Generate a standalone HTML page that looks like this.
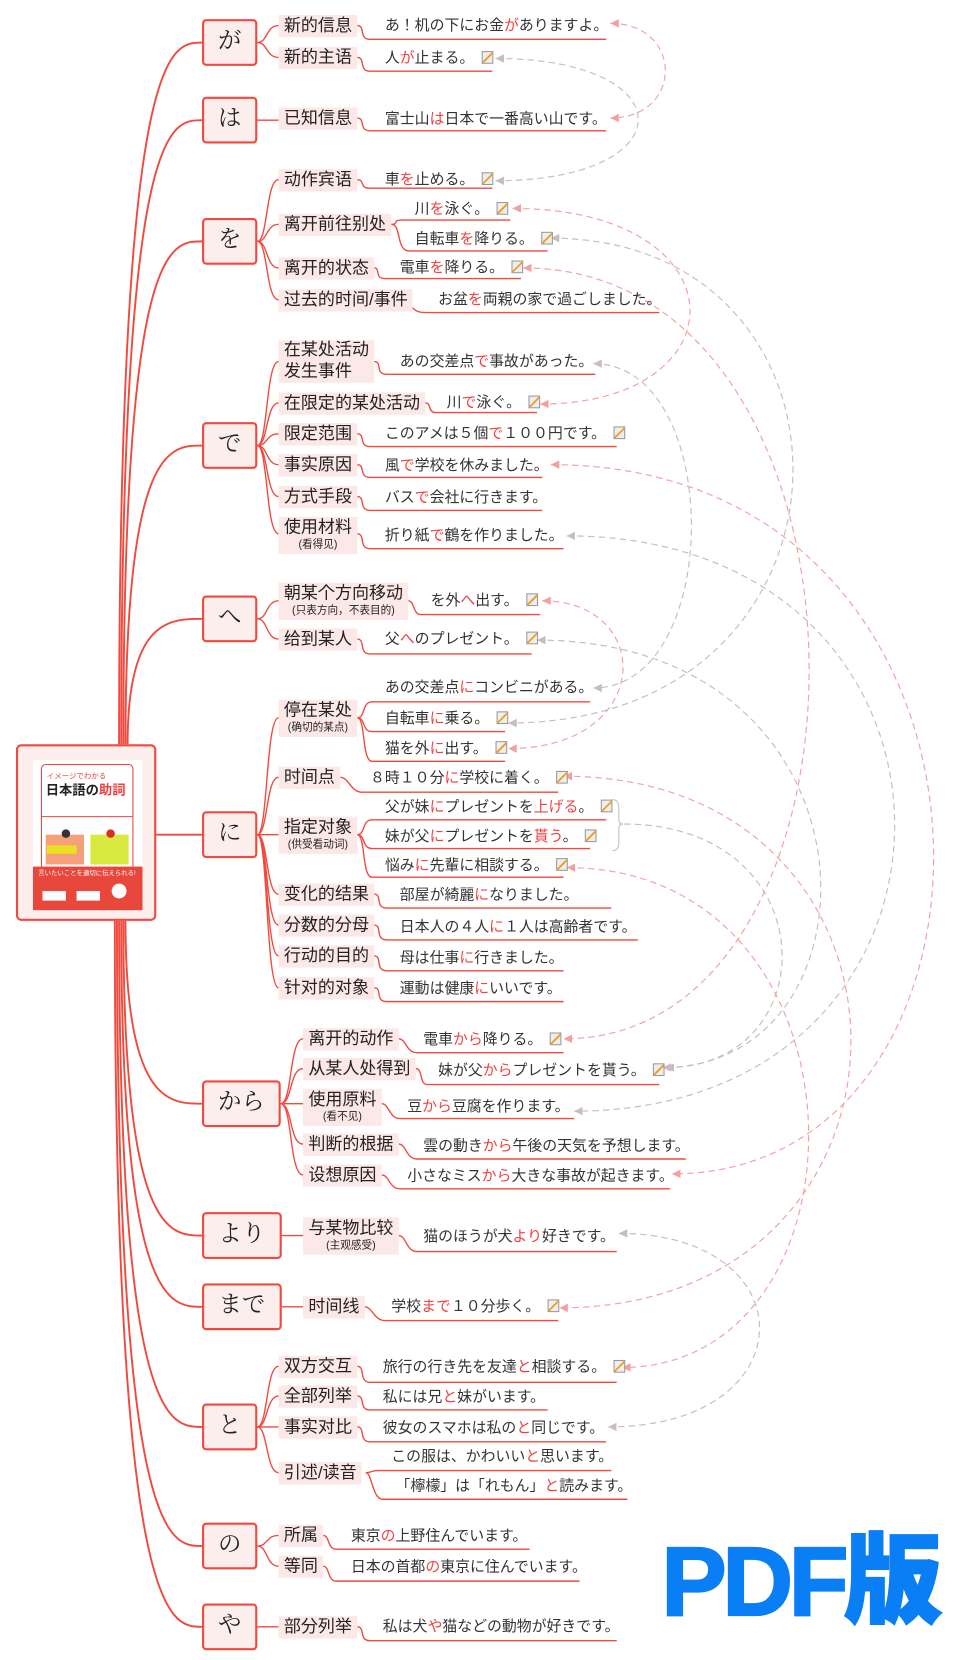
<!DOCTYPE html>
<html><head><meta charset="utf-8">
<style>
html,body{margin:0;padding:0;background:#fff;}
body{width:957px;height:1659px;overflow:hidden;position:relative;}
#w{position:absolute;left:0;top:0;width:900px;height:1561px;transform:scale(1.0633);transform-origin:0 0;font-family:"Liberation Sans","Noto Sans CJK JP",sans-serif;color:#333;}
.k{position:absolute;width:48px;height:40px;border:2px solid #f04a3e;border-radius:4px;background:#fdeeee;font-size:22px;line-height:36px;text-align:center;font-family:"Liberation Serif","Noto Serif CJK SC",serif;color:#222;box-sizing:content-box;}
.l{position:absolute;background:#fde8e8;font-size:16px;line-height:21px;padding:0 5px;white-space:nowrap;color:#222;}
.l small{display:block;font-size:10px;line-height:12px;text-align:center;padding-bottom:2px;}
.s{position:absolute;font-size:14px;line-height:18px;white-space:nowrap;color:#333;font-family:"Liberation Sans","Noto Sans CJK JP",sans-serif;}
.r{color:#f04040;}
.n{display:inline-block;width:9px;height:10px;border:1px solid #999;background:linear-gradient(135deg,#eee 45%,#f0a020 46%,#f0a020 58%,#eee 59%);margin-left:7px;vertical-align:-1px;}
svg{position:absolute;left:0;top:0;}
</style></head><body><div id="w">
<svg width="900" height="1561" viewBox="0 0 900 1561">
<defs>
<marker id="ap" markerWidth="8" markerHeight="8" refX="8" refY="4" orient="auto-start-reverse" markerUnits="userSpaceOnUse"><path d="M0,0 L8,4 L0,8 Z" fill="#f4a0a0"/></marker>
<marker id="ag" markerWidth="8" markerHeight="8" refX="8" refY="4" orient="auto-start-reverse" markerUnits="userSpaceOnUse"><path d="M0,0 L8,4 L0,8 Z" fill="#c9bcbc"/></marker>
</defs>
<g fill="none" stroke="#f04a3e" stroke-width="1.8">
<path d="M112 700 C112 40,160 40,190 40"/>
<path d="M114 700 C114 113,160 113,190 113"/>
<path d="M116 700 C116 227,160 227,190 227"/>
<path d="M118 700 C118 419,160 419,190 419"/>
<path d="M120 700 C120 582,160 582,190 582"/>
<path d="M147 785 H190"/>
<path d="M118 866 C118 1038,160 1038,190 1038"/>
<path d="M116 866 C116 1162,160 1162,190 1162"/>
<path d="M114 866 C114 1229,160 1229,190 1229"/>
<path d="M112 866 C112 1342,160 1342,190 1342"/>
<path d="M110 866 C110 1454,160 1454,190 1454"/>
<path d="M108 866 C108 1530,160 1530,190 1530"/>
</g>
<g fill="none" stroke="#f04a3e" stroke-width="1.3">
<path d="M242 40 C252 40,250 24,262 24"/><path d="M242 40 C252 40,250 54,262 54"/>
<path d="M242 113 H262"/>
<path d="M242 227 C252 227,250 169,262 169"/><path d="M242 227 C252 227,250 211,262 211"/><path d="M242 227 C252 227,250 252,262 252"/><path d="M242 227 C252 227,250 282,262 282"/>
<path d="M242 419 C252 419,250 340,262 340"/><path d="M242 419 C252 419,250 379,262 379"/><path d="M242 419 C252 419,250 408,262 408"/><path d="M242 419 C252 419,250 437,262 437"/><path d="M242 419 C252 419,250 467,262 467"/><path d="M242 419 C252 419,250 502,262 502"/>
<path d="M242 582 C252 582,250 565,262 565"/><path d="M242 582 C252 582,250 601,262 601"/>
<path d="M242 785 C252 785,250 675,262 675"/><path d="M242 785 C252 785,250 731,262 731"/><path d="M242 785 C252 785,250 785,262 785"/><path d="M242 785 C252 785,250 841,262 841"/><path d="M242 785 C252 785,250 870,262 870"/><path d="M242 785 C252 785,250 899,262 899"/><path d="M242 785 C252 785,250 929,262 929"/>
<path d="M264 1038 C275 1038,272 977,285 977"/><path d="M264 1038 C275 1038,272 1005,285 1005"/><path d="M264 1038 C275 1038,272 1038,285 1038"/><path d="M264 1038 C275 1038,272 1076,285 1076"/><path d="M264 1038 C275 1038,272 1105,285 1105"/>
<path d="M265 1162 H285"/>
<path d="M265 1229 H285"/>
<path d="M242 1342 C252 1342,250 1285,262 1285"/><path d="M242 1342 C252 1342,250 1313,262 1313"/><path d="M242 1342 C252 1342,250 1342,262 1342"/><path d="M242 1342 C252 1342,250 1385,262 1385"/>
<path d="M242 1454 C252 1454,250 1444,262 1444"/><path d="M242 1454 C252 1454,250 1473,262 1473"/>
<path d="M242 1530 H262"/>
<path d="M336 24 C344 24,337 37,348 37 H570"/>
<path d="M336 54 C344 54,337 67,348 67 H463"/>
<path d="M336 111 C344 111,337 123,348 123 H570"/>
<path d="M336 169 C344 169,337 177,348 177 H463"/>
<path d="M368 211 C376 211,368 207,378 207 H480"/>
<path d="M368 211 C378 211,372 236,385 236 H515"/>
<path d="M352 252 C358 252,352 262,362 262 H490"/>
<path d="M378 282 C388 282,384 294,400 294 H620"/>
<path d="M352 340 C360 340,352 352,364 352 H560"/>
<path d="M400 379 C406 379,402 388,410 388 H505"/>
<path d="M336 408 C344 408,337 420,348 420 H580"/>
<path d="M336 437 C344 437,337 449,348 449 H510"/>
<path d="M336 467 C344 467,337 480,348 480 H510"/>
<path d="M336 502 C344 502,337 516,348 516 H530"/>
<path d="M384 565 C390 565,388 578,396 578 H508"/>
<path d="M336 601 C344 601,337 615,348 615 H500"/>
<path d="M336 675 C344 675,340 660,350 660 H555"/>
<path d="M336 675 C344 675,340 688,350 688 H475"/>
<path d="M336 675 C344 675,340 716,350 716 H475"/>
<path d="M320 731 C328 731,330 745,340 745 H525"/>
<path d="M336 785 C344 785,340 771,350 771 H570"/>
<path d="M336 785 C344 785,340 798,350 798 H555"/>
<path d="M336 785 C344 785,340 825,350 825 H530"/>
<path d="M352 841 C360 841,352 854,364 854 H575"/>
<path d="M352 870 C360 870,352 884,364 884 H600"/>
<path d="M352 899 C360 899,352 913,364 913 H530"/>
<path d="M352 929 C360 929,352 942,364 942 H530"/>
<path d="M375 977 C382 977,382 990,392 990 H530"/>
<path d="M391 1005 C398 1005,394 1020,402 1020 H620"/>
<path d="M359 1038 C366 1038,366 1052,376 1052 H540"/>
<path d="M375 1076 C382 1076,382 1090,392 1090 H645"/>
<path d="M359 1105 C366 1105,366 1118,376 1118 H630"/>
<path d="M375 1162 C382 1162,382 1177,392 1177 H580"/>
<path d="M343 1229 C350 1229,352 1242,362 1242 H525"/>
<path d="M336 1285 C344 1285,337 1300,348 1300 H580"/>
<path d="M336 1313 C344 1313,337 1326,348 1326 H515"/>
<path d="M336 1342 C344 1342,337 1356,348 1356 H570"/>
<path d="M344 1385 C350 1385,348 1383,356 1383 H575"/>
<path d="M344 1385 C350 1385,350 1410,360 1410 H590"/>
<path d="M304 1444 C310 1444,308 1457,316 1457 H498"/>
<path d="M304 1473 C310 1473,308 1487,316 1487 H545"/>
<path d="M336 1530 C344 1530,337 1543,348 1543 H580"/>
<path d="M576 752 Q582 752,582 760 V771 Q582 775,586 775 Q582 775,582 779 V792 Q582 800,576 800" stroke="#c9bcbc" stroke-width="1"/>
</g>
<g fill="none" stroke-width="1.1" stroke-dasharray="6,4">
<path stroke="#f4a0a0" marker-start="url(#ap)" marker-end="url(#ap)" d="M574 22 C643 22,643 111,574 111"/>
<path stroke="#c9bcbc" marker-start="url(#ag)" marker-end="url(#ag)" d="M466 55 C645 55,645 170,466 170"/>
<path stroke="#f4a0a0" marker-start="url(#ap)" marker-end="url(#ap)" d="M482 196 C700 196,700 380,508 380"/>
<path stroke="#c9bcbc" marker-start="url(#ag)" marker-end="url(#ag)" d="M518 224 C828 224,828 680,478 680"/>
<path stroke="#f4a0a0" marker-start="url(#ap)" marker-end="url(#ap)" d="M492 252 C844 252,844 977,530 977"/>
<path stroke="#c9bcbc" marker-start="url(#ag)" marker-end="url(#ag)" d="M558 342 C681 342,681 647,558 647"/>
<path stroke="#f4a0a0" marker-start="url(#ap)" marker-end="url(#ap)" d="M518 437 C977 437,977 1104,632 1104"/>
<path stroke="#c9bcbc" marker-start="url(#ag)" marker-end="url(#ag)" d="M533 504 C943 504,943 1045,540 1045"/>
<path stroke="#f4a0a0" marker-start="url(#ap)" marker-end="url(#ap)" d="M510 565 C616 565,616 704,478 704"/>
<path stroke="#c9bcbc" marker-start="url(#ag)" marker-end="url(#ag)" d="M505 602 C838 602,838 1004,623 1004"/>
<path stroke="#f4a0a0" marker-start="url(#ap)" marker-end="url(#ap)" d="M530 730 C891 730,891 1230,526 1230"/>
<path stroke="#c9bcbc" marker-end="url(#ag)" d="M587 775 C778 775,778 1004,626 1004"/>
<path stroke="#f4a0a0" marker-start="url(#ap)" marker-end="url(#ap)" d="M533 816 C827 816,827 1286,585 1286"/>
<path stroke="#c9bcbc" marker-start="url(#ag)" marker-end="url(#ag)" d="M582 1160 C760 1160,760 1342,572 1342"/>
</g>
<rect x="16" y="701" width="130" height="164" rx="4" fill="#fdeeee" stroke="#f04a3e" stroke-width="2"/>
<rect x="31" y="715" width="103" height="141" fill="#fff"/>
<rect x="39" y="719" width="86" height="100" rx="4" fill="#fff" stroke="#e8473c" stroke-width="1"/>
<line x1="39" y1="768" x2="125" y2="768" stroke="#e8473c" stroke-width="1"/>
<rect x="43" y="785" width="36" height="28" fill="#f4a07a"/>
<rect x="44" y="795" width="28" height="8" fill="#e8e020"/>
<rect x="85" y="785" width="36" height="28" fill="#d8ea40"/>
<circle cx="62" cy="784" r="4" fill="#333"/><circle cx="104" cy="784" r="4" fill="#d83020"/>
<rect x="31" y="815" width="103" height="41" fill="#e8473c"/>
<rect x="40" y="838" width="22" height="9" fill="#fff"/><rect x="72" y="838" width="22" height="9" fill="#fff"/>
<circle cx="112" cy="838" r="7" fill="#fff"/>
</svg>
<div class="s" style="left:44px;top:727px;font-size:7px;line-height:8px;color:#e8473c">イメージでわかる</div>
<div class="s" style="left:43px;top:736px;font-size:12.5px;line-height:15px;font-weight:bold;color:#222">日本語の<span class="r">助詞</span></div>
<div class="s" style="left:36px;top:818px;font-size:6px;line-height:8px;color:#fff">言いたいことを適切に伝えられる!</div>

<div class="k" style="left:190px;top:18px">が</div>
<div class="k" style="left:190px;top:91px">は</div>
<div class="k" style="left:190px;top:205px">を</div>
<div class="k" style="left:190px;top:397px">で</div>
<div class="k" style="left:190px;top:560px">へ</div>
<div class="k" style="left:190px;top:763px">に</div>
<div class="k" style="left:190px;top:1016px;width:70px">から</div>
<div class="k" style="left:190px;top:1140px;width:71px">より</div>
<div class="k" style="left:190px;top:1207px;width:71px">まで</div>
<div class="k" style="left:190px;top:1320px">と</div>
<div class="k" style="left:190px;top:1432px">の</div>
<div class="k" style="left:190px;top:1508px">や</div>

<div class="l" style="left:262px;top:14px">新的信息</div>
<div class="l" style="left:262px;top:44px">新的主语</div>
<div class="l" style="left:262px;top:101px">已知信息</div>
<div class="l" style="left:262px;top:159px">动作宾语</div>
<div class="l" style="left:262px;top:201px">离开前往别处</div>
<div class="l" style="left:262px;top:242px">离开的状态</div>
<div class="l" style="left:262px;top:272px">过去的时间/事件</div>
<div class="l" style="left:262px;top:320px;line-height:20px">在某处活动<br>发生事件</div>
<div class="l" style="left:262px;top:369px">在限定的某处活动</div>
<div class="l" style="left:262px;top:398px">限定范围</div>
<div class="l" style="left:262px;top:427px">事实原因</div>
<div class="l" style="left:262px;top:457px">方式手段</div>
<div class="l" style="left:262px;top:486px">使用材料<small>(看得见)</small></div>
<div class="l" style="left:262px;top:548px">朝某个方向移动<small>(只表方向，不表目的)</small></div>
<div class="l" style="left:262px;top:591px">给到某人</div>
<div class="l" style="left:262px;top:658px">停在某处<small>(确切的某点)</small></div>
<div class="l" style="left:262px;top:721px">时间点</div>
<div class="l" style="left:262px;top:768px">指定对象<small>(供受看动词)</small></div>
<div class="l" style="left:262px;top:831px">变化的结果</div>
<div class="l" style="left:262px;top:860px">分数的分母</div>
<div class="l" style="left:262px;top:889px">行动的目的</div>
<div class="l" style="left:262px;top:919px">针对的对象</div>
<div class="l" style="left:285px;top:967px">离开的动作</div>
<div class="l" style="left:285px;top:995px">从某人处得到</div>
<div class="l" style="left:285px;top:1024px">使用原料<small>(看不见)</small></div>
<div class="l" style="left:285px;top:1066px">判断的根据</div>
<div class="l" style="left:285px;top:1095px">设想原因</div>
<div class="l" style="left:285px;top:1145px">与某物比较<small>(主观感受)</small></div>
<div class="l" style="left:285px;top:1219px">时间线</div>
<div class="l" style="left:262px;top:1275px">双方交互</div>
<div class="l" style="left:262px;top:1303px">全部列举</div>
<div class="l" style="left:262px;top:1332px">事实对比</div>
<div class="l" style="left:262px;top:1375px">引述/读音</div>
<div class="l" style="left:262px;top:1434px">所属</div>
<div class="l" style="left:262px;top:1463px">等同</div>
<div class="l" style="left:262px;top:1520px">部分列举</div>

<div class="s" style="left:362px;top:14px">あ！机の下にお金<span class="r">が</span>ありますよ。</div>
<div class="s" style="left:362px;top:45px">人<span class="r">が</span>止まる。<span class="n"></span></div>
<div class="s" style="left:362px;top:102px">富士山<span class="r">は</span>日本で一番高い山です。</div>
<div class="s" style="left:362px;top:159px">車<span class="r">を</span>止める。<span class="n"></span></div>
<div class="s" style="left:390px;top:187px">川<span class="r">を</span>泳ぐ。<span class="n"></span></div>
<div class="s" style="left:390px;top:215px">自転車<span class="r">を</span>降りる。<span class="n"></span></div>
<div class="s" style="left:376px;top:242px">電車<span class="r">を</span>降りる。<span class="n"></span></div>
<div class="s" style="left:412px;top:272px">お盆<span class="r">を</span>両親の家で過ごしました。</div>
<div class="s" style="left:376px;top:330px">あの交差点<span class="r">で</span>事故があった。</div>
<div class="s" style="left:420px;top:369px">川<span class="r">で</span>泳ぐ。<span class="n"></span></div>
<div class="s" style="left:362px;top:398px">このアメは５個<span class="r">で</span>１００円です。<span class="n"></span></div>
<div class="s" style="left:362px;top:428px">風<span class="r">で</span>学校を休みました。</div>
<div class="s" style="left:362px;top:458px">バス<span class="r">で</span>会社に行きます。</div>
<div class="s" style="left:362px;top:494px">折り紙<span class="r">で</span>鶴を作りました。</div>
<div class="s" style="left:405px;top:555px">を外<span class="r">へ</span>出す。<span class="n"></span></div>
<div class="s" style="left:362px;top:591px">父<span class="r">へ</span>のプレゼント。<span class="n"></span></div>
<div class="s" style="left:362px;top:637px">あの交差点<span class="r">に</span>コンビニがある。</div>
<div class="s" style="left:362px;top:666px">自転車<span class="r">に</span>乗る。<span class="n"></span></div>
<div class="s" style="left:362px;top:694px">猫を外<span class="r">に</span>出す。<span class="n"></span></div>
<div class="s" style="left:348px;top:722px">８時１０分<span class="r">に</span>学校に着く。<span class="n"></span></div>
<div class="s" style="left:362px;top:749px">父が妹<span class="r">に</span>プレゼントを<span class="r">上げる</span>。<span class="n"></span></div>
<div class="s" style="left:362px;top:777px">妹が父<span class="r">に</span>プレゼントを<span class="r">貰う</span>。<span class="n"></span></div>
<div class="s" style="left:362px;top:804px">悩み<span class="r">に</span>先輩に相談する。<span class="n"></span></div>
<div class="s" style="left:376px;top:832px">部屋が綺麗<span class="r">に</span>なりました。</div>
<div class="s" style="left:376px;top:862px">日本人の４人<span class="r">に</span>１人は高齢者です。</div>
<div class="s" style="left:376px;top:891px">母は仕事<span class="r">に</span>行きました。</div>
<div class="s" style="left:376px;top:920px">運動は健康<span class="r">に</span>いいです。</div>
<div class="s" style="left:398px;top:968px">電車<span class="r">から</span>降りる。<span class="n"></span></div>
<div class="s" style="left:412px;top:997px">妹が父<span class="r">から</span>プレゼントを貰う。<span class="n"></span></div>
<div class="s" style="left:383px;top:1031px">豆<span class="r">から</span>豆腐を作ります。</div>
<div class="s" style="left:398px;top:1068px">雲の動き<span class="r">から</span>午後の天気を予想します。</div>
<div class="s" style="left:383px;top:1096px">小さなミス<span class="r">から</span>大きな事故が起きます。</div>
<div class="s" style="left:398px;top:1153px">猫のほうが犬<span class="r">より</span>好きです。</div>
<div class="s" style="left:368px;top:1219px">学校<span class="r">まで</span>１０分歩く。<span class="n"></span></div>
<div class="s" style="left:360px;top:1276px">旅行の行き先を友達<span class="r">と</span>相談する。<span class="n"></span></div>
<div class="s" style="left:360px;top:1304px">私には兄<span class="r">と</span>妹がいます。</div>
<div class="s" style="left:360px;top:1333px">彼女のスマホは私の<span class="r">と</span>同じです。</div>
<div class="s" style="left:368px;top:1360px">この服は、かわいい<span class="r">と</span>思います。</div>
<div class="s" style="left:372px;top:1388px">「檸檬」は「れもん」<span class="r">と</span>読みます。</div>
<div class="s" style="left:330px;top:1435px">東京<span class="r">の</span>上野住んでいます。</div>
<div class="s" style="left:330px;top:1464px">日本の首都<span class="r">の</span>東京に住んでいます。</div>
<div class="s" style="left:360px;top:1520px">私は犬<span class="r">や</span>猫などの動物が好きです。</div>

<div style="position:absolute;left:622px;top:1435px;font-size:92px;line-height:106px;font-weight:900;color:#0a7ef5;font-family:'Liberation Sans','Noto Sans CJK JP',sans-serif;letter-spacing:-4px;white-space:nowrap;-webkit-text-stroke:2px #0a7ef5">PDF版</div>
</div></body></html>
